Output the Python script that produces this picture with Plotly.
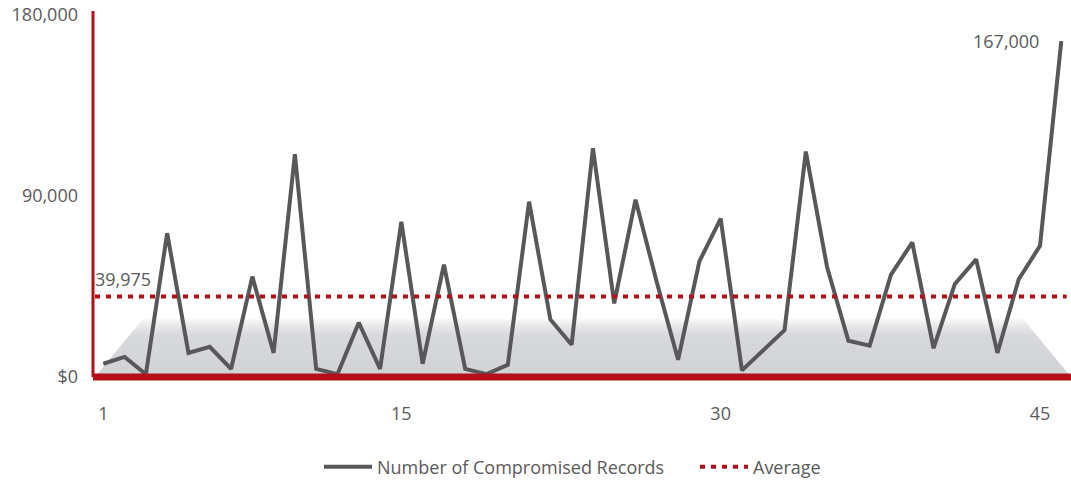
import plotly.graph_objects as go

# ---- data ----
periods = list(range(1, 47))
records = [6600, 10000, 1400, 71500, 12000, 15000, 4000, 49900, 12000, 110800,
           4000, 1400, 27000, 4000, 77200, 6600, 55900, 4000, 1400, 6000,
           87200, 28600, 16000, 113800, 36600, 88200, 47100, 8600, 57500, 78800,
           3300, 13300, 23300, 112100, 54500, 18000, 15600, 50900, 66900, 14300,
           46300, 58500, 12000, 48600, 65200, 167000]
average_value = 39975
x_tick_vals = [1, 15, 30, 45]
x_tick_text = ["1", "15", "30", "45"]
y_tick_vals = [0, 90000, 180000]
y_tick_text = ["$0", "90,000", "180,000"]
peak_label = "167,000"
avg_label = "39,975"

# ---- styling ----
GRAY = "#58585a"
RED = "#b30f18"
TEXT = "#5a5a5a"
FONT = "Open Sans"
X_RANGE = [0.516, 46.456]
Y_RANGE = [0, 182000]

fig = go.Figure()

# decorative shaded platform behind the line
plat_x = [0.61, 2.86, 44.2, X_RANGE[1], 0.61]
plat_y = [0, 29000, 29000, 0, 0]
fig.add_trace(go.Scatter(
    x=plat_x, y=plat_y, mode="lines", line=dict(width=0),
    fill="toself",
    fillgradient=dict(type="vertical",
                      colorscale=[[0, "#d1d2d5"], [0.72, "#d8d9dc"], [0.9, "#ebebec"], [1, "#fafafa"]]),
    showlegend=False, hoverinfo="skip"))

fig.add_trace(go.Scatter(
    x=periods, y=records, mode="lines", name="Number of Compromised Records",
    line=dict(color=GRAY, width=4)))

avg_x = [0.61, 46.25]
fig.add_trace(go.Scatter(
    x=avg_x, y=[average_value] * len(avg_x), mode="lines", name="Average",
    line=dict(color=RED, width=4, dash="5px,6px")))

# axis lines
fig.add_shape(type="line", xref="paper", yref="paper", x0=0, x1=1, y0=0, y1=0,
              line=dict(color=RED, width=7), layer="above")
fig.add_shape(type="line", xref="paper", yref="paper", x0=0, x1=0, y0=0, y1=1,
              line=dict(color=RED, width=3), layer="above")

fig.add_annotation(x=0, xref="paper", xanchor="left", xshift=0,
                   y=average_value, yref="y", yanchor="bottom", yshift=4,
                   text=avg_label, showarrow=False,
                   font=dict(family=FONT, size=18, color=TEXT))
fig.add_annotation(x=periods[-1], y=records[-1], xanchor="right", xshift=-20,
                   yanchor="middle", text=peak_label, showarrow=False,
                   font=dict(family=FONT, size=18, color=TEXT))

fig.update_layout(
    width=1071, height=483,
    margin=dict(l=93, r=0, t=11, b=106),
    paper_bgcolor="white", plot_bgcolor="white",
    font=dict(family=FONT, size=18, color=TEXT),
    xaxis=dict(range=X_RANGE, tickvals=x_tick_vals, ticktext=x_tick_text,
               showgrid=False, zeroline=False, showline=False, ticks="",
               ticklabelstandoff=24, tickfont=dict(size=18, color=TEXT)),
    yaxis=dict(range=Y_RANGE, tickvals=y_tick_vals, ticktext=y_tick_text,
               showgrid=False, zeroline=False, showline=False, ticks="",
               ticklabelstandoff=14, tickfont=dict(size=18, color=TEXT)),
    legend=dict(orientation="h", x=0.2556, xanchor="left", xref="paper",
                y=0.033, yref="container", yanchor="middle",
                font=dict(family=FONT, size=18, color=TEXT),
                itemwidth=48, entrywidth=313, entrywidthmode="pixels"),
    showlegend=True,
)

fig.write_html("out.html", config={"displayModeBar": False},
               post_script="document.body.style.margin='0';document.body.style.overflow='hidden';")
